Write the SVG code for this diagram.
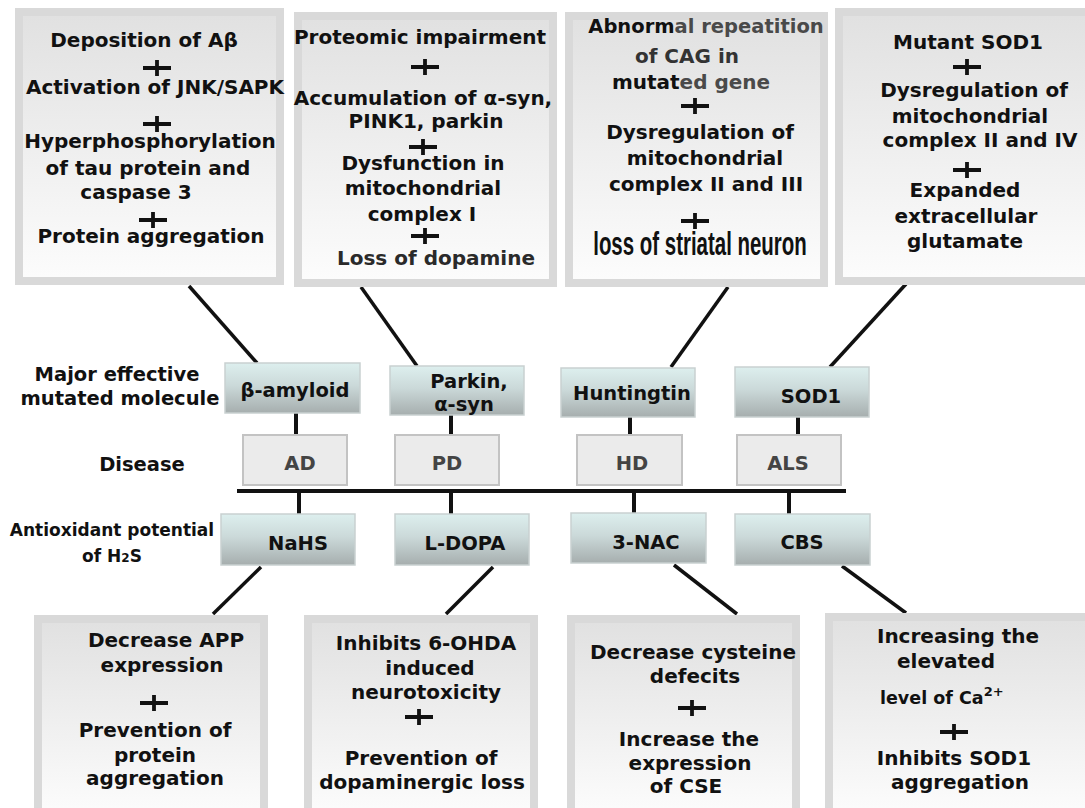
<svg xmlns="http://www.w3.org/2000/svg" xmlns:xlink="http://www.w3.org/1999/xlink" width="1085" height="808" viewBox="0 0 1085 808">
<defs>
<linearGradient id="gBox" x1="0" y1="0" x2="0" y2="1"><stop offset="0" stop-color="#e1e1e1"/><stop offset="1" stop-color="#fcfcfc"/></linearGradient>
<linearGradient id="gMol" x1="0" y1="0" x2="0" y2="1"><stop offset="0" stop-color="#ddefee"/><stop offset="0.45" stop-color="#cbd9d9"/><stop offset="1" stop-color="#a6aeae"/></linearGradient>
<path id="plus" d="M-14 0H14M0 -8V8" stroke="#111" stroke-width="3.8" fill="none"/>
<style>
.frame{fill:#d9d9d9}
.inner{fill:url(#gBox)}
.mol{fill:url(#gMol);stroke:#c9d1d1;stroke-width:1.5}
.dis{fill:#ebebeb;stroke:#c3c3c3;stroke-width:2}
.t{font-family:"DejaVu Sans","Liberation Sans",sans-serif;font-weight:bold;font-size:20px;fill:#111;text-anchor:middle}
.m{font-size:19.5px}
.g{fill:#444}
.sm{font-size:17px}
.cond{font-family:"Liberation Sans",sans-serif;font-weight:bold;font-size:33px;fill:#111;text-anchor:middle}
.ln{stroke:#111;stroke-width:4;fill:none}
.dg{stroke:#111;stroke-width:3.5;fill:none}
</style>
</defs>
<rect width="1085" height="808" fill="#fff"/>

<g id="connectors">
<line class="dg" x1="189" y1="286" x2="257" y2="363"/>
<line class="dg" x1="361" y1="287" x2="417" y2="366"/>
<line class="dg" x1="728" y1="287" x2="671" y2="367"/>
<line class="dg" x1="906" y1="284" x2="830" y2="367"/>
<line class="ln" x1="296" y1="413" x2="296" y2="435"/>
<line class="ln" x1="451" y1="415" x2="451" y2="435"/>
<line class="ln" x1="630" y1="417" x2="630" y2="435"/>
<line class="ln" x1="798" y1="417" x2="798" y2="435"/>
<line class="ln" x1="237" y1="491" x2="846" y2="491"/>
<line class="ln" x1="299" y1="491" x2="299" y2="514"/>
<line class="ln" x1="451" y1="491" x2="451" y2="514"/>
<line class="ln" x1="634" y1="491" x2="634" y2="513"/>
<line class="ln" x1="789" y1="491" x2="789" y2="514"/>
<line class="dg" x1="261" y1="567" x2="213" y2="614"/>
<line class="dg" x1="493" y1="567" x2="446" y2="614"/>
<line class="dg" x1="674" y1="565" x2="737" y2="614"/>
<line class="dg" x1="842" y1="566" x2="906" y2="613"/>
</g>

<g id="top-AD">
<rect class="frame" x="15" y="8" width="269" height="277"/>
<rect class="inner" x="23" y="16" width="253" height="261"/>
<text class="t" x="144" y="47">Deposition of Aβ</text>
<use xlink:href="#plus" x="157" y="68"/>
<text class="t" x="155" y="94">Activation of JNK/SAPK</text>
<use xlink:href="#plus" x="157" y="124"/>
<text class="t" x="150" y="148">Hyperphosphorylation</text>
<text class="t" x="148" y="175">of tau protein and</text>
<text class="t" x="136" y="199">caspase 3</text>
<use xlink:href="#plus" x="153" y="220"/>
<text class="t" x="151" y="243">Protein aggregation</text>
</g>

<g id="top-PD">
<rect class="frame" x="294" y="12" width="263" height="275"/>
<rect class="inner" x="302" y="20" width="247" height="259"/>
<text class="t" x="420" y="44">Proteomic impairment</text>
<use xlink:href="#plus" x="425" y="67"/>
<text class="t" x="423" y="105">Accumulation of α-syn,</text>
<text class="t" x="426" y="128">PINK1, parkin</text>
<use xlink:href="#plus" x="423" y="147"/>
<text class="t" x="423" y="170">Dysfunction in</text>
<text class="t" x="423" y="195">mitochondrial</text>
<text class="t" x="422" y="221">complex I</text>
<use xlink:href="#plus" x="425" y="236"/>
<text class="t" x="436" y="265" style="fill:#2a2a2a">Loss of dopamine</text>
</g>

<g id="top-HD">
<rect class="frame" x="565" y="12" width="263" height="275"/>
<rect class="inner" x="573" y="20" width="247" height="259"/>
<text class="t" x="706" y="33" style="font-size:19.5px">Abnorm<tspan style="fill:#4a4a4a">al repeatition</tspan></text>
<text class="t" x="687" y="63" style="fill:#333">of CAG in</text>
<text class="t" x="691" y="89">mutat<tspan style="fill:#4a4a4a">ed gene</tspan></text>
<use xlink:href="#plus" x="695" y="106"/>
<text class="t" x="700" y="139">Dysregulation of</text>
<text class="t" x="705" y="165">mitochondrial</text>
<text class="t" x="706" y="191">complex II and III</text>
<use xlink:href="#plus" x="695" y="221"/>
<text class="cond" transform="translate(700,255) scale(0.62,1)">loss of striatal neuron</text>
</g>

<g id="top-ALS">
<rect class="frame" x="835" y="8" width="260" height="277"/>
<rect class="inner" x="843" y="16" width="252" height="261"/>
<text class="t" x="968" y="49">Mutant SOD1</text>
<use xlink:href="#plus" x="967" y="67"/>
<text class="t" x="974" y="97">Dysregulation of</text>
<text class="t" x="970" y="123">mitochondrial</text>
<text class="t" x="980" y="147">complex II and IV</text>
<use xlink:href="#plus" x="967" y="170"/>
<text class="t" x="965" y="197">Expanded</text>
<text class="t" x="966" y="223">extracellular</text>
<text class="t" x="965" y="248">glutamate</text>
</g>

<g id="row-labels">
<text class="t m" x="117" y="381">Major effective</text>
<text class="t m" x="120" y="405">mutated molecule</text>
<text class="t m" x="142" y="471">Disease</text>
<text class="t sm" x="112" y="536">Antioxidant potential</text>
<text class="t sm" x="112" y="562">of H<tspan style="font-size:12px">2</tspan>S</text>
</g>

<g id="mol-beta-amyloid">
<rect class="mol" x="225" y="363" width="135" height="50"/>
<text class="t m" x="295" y="397">β-amyloid</text>
</g>
<g id="mol-parkin">
<rect class="mol" x="390" y="366" width="134" height="49"/>
<text class="t m" x="469" y="388">Parkin,</text>
<text class="t m" x="464" y="411">α-syn</text>
</g>
<g id="mol-huntingtin">
<rect class="mol" x="561" y="368" width="134" height="49"/>
<text class="t m" x="632" y="400">Huntingtin</text>
</g>
<g id="mol-sod1">
<rect class="mol" x="735" y="367" width="134" height="50"/>
<text class="t m" x="811" y="403">SOD1</text>
</g>

<g id="dis-AD">
<rect class="dis" x="243" y="435" width="104" height="50"/>
<text class="t m g" x="300" y="470">AD</text>
</g>
<g id="dis-PD">
<rect class="dis" x="395" y="435" width="104" height="50"/>
<text class="t m g" x="447" y="470">PD</text>
</g>
<g id="dis-HD">
<rect class="dis" x="577" y="435" width="105" height="50"/>
<text class="t m g" x="632" y="470">HD</text>
</g>
<g id="dis-ALS">
<rect class="dis" x="737" y="435" width="104" height="50"/>
<text class="t m g" x="788" y="470">ALS</text>
</g>

<g id="ao-NaHS">
<rect class="mol" x="221" y="514" width="134" height="51"/>
<text class="t m" x="298" y="550">NaHS</text>
</g>
<g id="ao-LDOPA">
<rect class="mol" x="395" y="514" width="134" height="51"/>
<text class="t m" x="465" y="550">L-DOPA</text>
</g>
<g id="ao-3NAC">
<rect class="mol" x="571" y="513" width="135" height="50"/>
<text class="t m" x="646" y="549">3-NAC</text>
</g>
<g id="ao-CBS">
<rect class="mol" x="735" y="514" width="135" height="51"/>
<text class="t m" x="802" y="549">CBS</text>
</g>

<g id="bot-NaHS">
<rect class="frame" x="34" y="615" width="234" height="200"/>
<rect class="inner" x="42" y="623" width="218" height="190"/>
<text class="t" x="166" y="647">Decrease APP</text>
<text class="t" x="162" y="672">expression</text>
<use xlink:href="#plus" x="154" y="703"/>
<text class="t" x="155" y="737">Prevention of</text>
<text class="t" x="155" y="762">protein</text>
<text class="t" x="155" y="785">aggregation</text>
</g>

<g id="bot-LDOPA">
<rect class="frame" x="304" y="615" width="234" height="200"/>
<rect class="inner" x="312" y="623" width="218" height="190"/>
<text class="t" x="426" y="650">Inhibits 6-OHDA</text>
<text class="t" x="430" y="675">induced</text>
<text class="t" x="426" y="699">neurotoxicity</text>
<use xlink:href="#plus" x="419" y="717"/>
<text class="t" x="421" y="765">Prevention of</text>
<text class="t" x="422" y="789">dopaminergic loss</text>
</g>

<g id="bot-3NAC">
<rect class="frame" x="567" y="615" width="233" height="200"/>
<rect class="inner" x="575" y="623" width="217" height="190"/>
<text class="t" x="693" y="659">Decrease cysteine</text>
<text class="t" x="695" y="683">defecits</text>
<use xlink:href="#plus" x="692" y="708"/>
<text class="t" x="689" y="746">Increase the</text>
<text class="t" x="690" y="770">expression</text>
<text class="t" x="686" y="793">of CSE</text>
</g>

<g id="bot-CBS">
<rect class="frame" x="825" y="613" width="270" height="202"/>
<rect class="inner" x="833" y="621" width="262" height="192"/>
<text class="t" x="958" y="643">Increasing the</text>
<text class="t" x="946" y="668">elevated</text>
<text class="t" x="880" y="704" style="text-anchor:start;font-size:17.5px">level of Ca<tspan dy="-8" style="font-size:13px">2+</tspan></text>
<use xlink:href="#plus" x="954" y="732"/>
<text class="t" x="954" y="765">Inhibits SOD1</text>
<text class="t" x="960" y="789">aggregation</text>
</g>
</svg>
